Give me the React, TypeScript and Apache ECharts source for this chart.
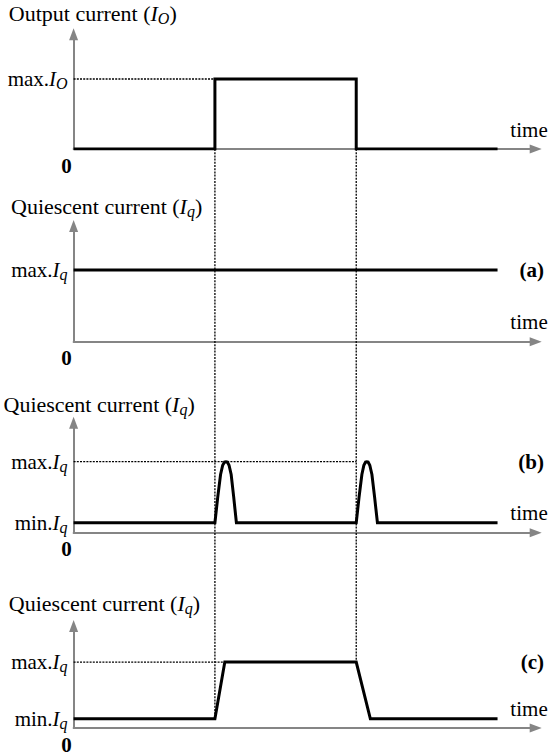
import React, { useEffect, useRef } from "react";
import * as echarts from "echarts";

const FONT = "Liberation Serif";
const INK = "#000";
const AXIS_GREY = "#858585";

// Time instants of the load step (one unit between consecutive events)
const stepOn = 1;
const stepOff = 2;
const traceEnd = 3;
const timeAxisMax = 3.27;

// Current levels (normalised to the maximum)
const levelMax = 1;
const levelMin = 0.14;

// Output current: rectangular load step
const outputTime = [0, 1, 1, 2, 2, 3];
const outputLevel = [0, 0, 1, 1, 0, 0];

// (a) quiescent current held at its maximum
const caseATime = [0, 3];
const caseALevel = [1, 1];

// (b) short quiescent-current pulses at each load transition
const caseBTime = [
  0, 1.0, 1.02, 1.04, 1.055, 1.068, 1.078, 1.088, 1.1, 1.115, 1.133, 1.152,
  2.0, 2.02, 2.04, 2.054, 2.066, 2.075, 2.084, 2.096, 2.111, 2.13, 2.15, 3,
];
const caseBLevel = [
  0.14, 0.14, 0.5, 0.82, 0.95, 0.995, 1, 0.995, 0.95, 0.82, 0.5, 0.14,
  0.14, 0.5, 0.82, 0.95, 0.995, 1, 0.995, 0.95, 0.82, 0.5, 0.14, 0.14,
];

// (c) quiescent current follows the load with finite slew
const caseCTime = [0, 1, 1.07, 2, 2.1, 3];
const caseCLevel = [0.14, 0.14, 1, 1, 0.14, 0.14];

// Dotted reference levels: end time of each max-level guide
const guideEndOutput = 1;
const guideEndB = 2;
const guideEndC = 1.07;

const panelTitles = [
  "{n|Output current (}{i|I}{s|O}{n|)}",
  "{n|Quiescent current (}{i|I}{s|q}{n|)}",
  "{n|Quiescent current (}{i|I}{s|q}{n|)}",
  "{n|Quiescent current (}{i|I}{s|q}{n|)}",
];
const caseTags = ["(a)", "(b)", "(c)"];

const zip = (xs: number[], ys: number[]) => xs.map((x, i) => [x, ys[i]]);

const makeRich = (size: number, subSize: number, drop: number) => ({
  n: { fontFamily: FONT, fontSize: size, color: INK },
  i: { fontFamily: FONT, fontSize: size, fontStyle: "italic", color: INK },
  s: {
    fontFamily: FONT,
    fontSize: subSize,
    fontStyle: "italic",
    color: INK,
    padding: [drop, 0, 0, 0],
  },
});

const labelRich = makeRich(21, 16, 9);
const titleRich = makeRich(22, 16, 10);

export default function App() {
  const ref = useRef<HTMLDivElement>(null);

  useEffect(() => {
    if (!ref.current) return;
    const chart = echarts.init(ref.current, undefined, { renderer: "svg" });

    const panels = [
      { top: 34.3, height: 114.7, yMax: 1.639, labels: [1], sub: "O" },
      { top: 226, height: 115.7, yMax: 1.614, labels: [1], sub: "q" },
      { top: 422.7, height: 110, yMax: 1.549, labels: [levelMin, levelMax], sub: "q" },
      { top: 626, height: 107.3, yMax: 1.548, labels: [levelMin, levelMax], sub: "q" },
    ];
    const titleLeft = [8.8, 11, 3.5, 8.8];
    const titleTop = [0, 193, 391, 590];

    const grid = panels.map((p) => ({
      left: 73.6,
      width: 462.1,
      top: p.top,
      height: p.height,
      containLabel: false,
    }));

    const axisLine = () => ({
      show: true,
      symbol: ["none", "triangle"],
      symbolSize: [9, 12],
      lineStyle: { color: AXIS_GREY, width: 2 },
    });

    const xAxis = panels.map((_, k) => ({
      type: "value",
      gridIndex: k,
      min: 0,
      max: timeAxisMax,
      axisLine: axisLine(),
      axisTick: { show: false },
      splitLine: { show: false },
      axisLabel: {
        customValues: [0],
        formatter: () => "0",
        fontFamily: FONT,
        fontSize: 21,
        fontWeight: "bold",
        color: INK,
        margin: 6,
        padding: [0, 14, 0, 0],
      },
      name: "time",
      nameLocation: "end",
      nameGap: 12,
      nameTextStyle: {
        fontFamily: FONT,
        fontSize: 21,
        color: INK,
        align: "right",
        verticalAlign: "bottom",
        padding: [0, 0, 9, 0],
      },
    }));

    const yAxis = panels.map((p, k) => ({
      type: "value",
      gridIndex: k,
      min: 0,
      max: p.yMax,
      axisLine: axisLine(),
      axisTick: { show: false },
      splitLine: { show: false },
      axisLabel: {
        customValues: p.labels,
        formatter: (v: number) =>
          (v >= levelMax ? "{n|max.}" : "{n|min.}") + "{i|I}{s|" + p.sub + "}",
        rich: labelRich,
        margin: 6,
      },
    }));

    const trace = (k: number, data: number[][]) => ({
      type: "line",
      xAxisIndex: k,
      yAxisIndex: k,
      data,
      showSymbol: false,
      symbol: "none",
      silent: true,
      z: 3,
      lineStyle: { color: INK, width: 3, join: "miter", cap: "butt" },
    });

    const guide = (k: number, tEnd: number) => ({
      type: "line",
      xAxisIndex: k,
      yAxisIndex: k,
      data: [
        [0, levelMax],
        [tEnd, levelMax],
      ],
      showSymbol: false,
      symbol: "none",
      silent: true,
      z: 2,
      lineStyle: { color: INK, width: 1.3, type: [2, 1.2] },
    });

    const series = [
      trace(0, zip(outputTime, outputLevel)),
      trace(1, zip(caseATime, caseALevel)),
      trace(2, zip(caseBTime, caseBLevel)),
      trace(3, zip(caseCTime, caseCLevel)),
      guide(0, guideEndOutput),
      guide(2, guideEndB),
      guide(3, guideEndC),
    ];

    chart.setOption({
      animation: false,
      backgroundColor: "#fff",
      textStyle: { fontFamily: FONT },
      title: panelTitles.map((t, k) => ({
        text: t,
        left: titleLeft[k],
        top: titleTop[k],
        padding: 0,
        textStyle: { rich: titleRich, fontWeight: "normal", fontFamily: FONT },
      })),
      grid,
      xAxis,
      yAxis,
      series,
    });

    // Dotted event markers spanning all panels, placed from the data scales
    const onTop = chart.convertToPixel({ seriesIndex: 0 }, [stepOn, 0]) as number[];
    const onBottom = chart.convertToPixel({ seriesIndex: 3 }, [stepOn, levelMin]) as number[];
    const offTop = chart.convertToPixel({ seriesIndex: 0 }, [stepOff, 0]) as number[];
    const offBottom = chart.convertToPixel({ seriesIndex: 3 }, [stepOff, levelMax]) as number[];

    const tagY = [1, 2, 3].map(
      (s) => (chart.convertToPixel({ seriesIndex: s }, [traceEnd, levelMax]) as number[])[1]
    );

    const dash = { stroke: INK, lineWidth: 1.3, lineDash: [2, 1.2] };

    chart.setOption({
      graphic: [
        {
          type: "line",
          z: 1,
          silent: true,
          shape: { x1: onTop[0], y1: onTop[1], x2: onBottom[0], y2: onBottom[1] },
          style: dash,
        },
        {
          type: "line",
          z: 1,
          silent: true,
          shape: { x1: offTop[0], y1: offTop[1], x2: offBottom[0], y2: offBottom[1] },
          style: dash,
        },
        ...caseTags.map((tag, k) => ({
          type: "text",
          silent: true,
          x: 544,
          y: tagY[k],
          style: {
            text: tag,
            fontFamily: FONT,
            fontSize: 21,
            fontWeight: "bold",
            fill: INK,
            align: "right",
            verticalAlign: "middle",
          },
        })),
      ],
    });

    return () => chart.dispose();
  }, []);

  return (
    <div
      ref={ref}
      style={{ position: "absolute", left: 0, top: 0, width: 549, height: 755, background: "#fff" }}
    />
  );
}
